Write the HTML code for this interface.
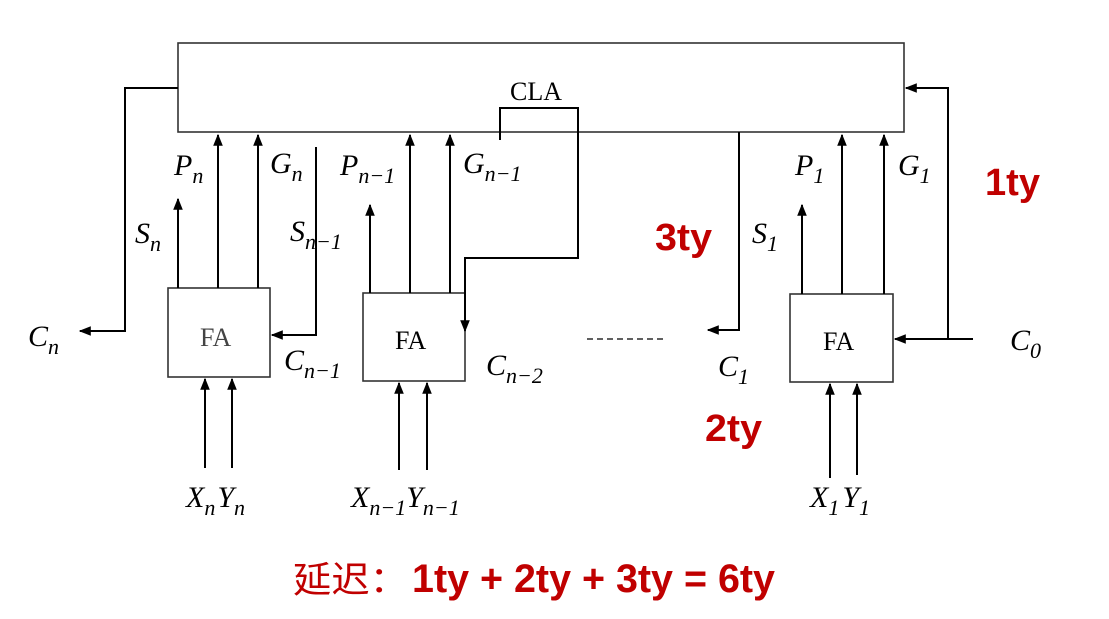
<!DOCTYPE html>
<html><head><meta charset="utf-8"><style>
html,body{margin:0;padding:0;background:#fff;}
svg{display:block;}
.m{font-family:"Liberation Serif",serif;font-style:italic;font-size:30px;fill:#000;}
.s{font-size:22px;font-style:italic;}
.fa{font-family:"Liberation Serif",serif;font-size:26px;fill:#000;}
.r{font-family:"Liberation Sans","Noto Sans CJK SC",sans-serif;font-weight:bold;fill:#c00000;font-size:38px;}
</style></head><body>
<svg width="1109" height="619" viewBox="0 0 1109 619" xmlns="http://www.w3.org/2000/svg">
<defs><marker id="b" viewBox="0 0 10 10" refX="9" refY="5" markerWidth="12" markerHeight="12" orient="auto" markerUnits="userSpaceOnUse"><path d="M0,1L10,5L0,9z" fill="#000"/></marker></defs>
<g fill="none" stroke="#333" stroke-width="1.6">
<rect x="178" y="43" width="726" height="89"/>
<rect x="168" y="288" width="102" height="89"/>
<rect x="363" y="293" width="102" height="88"/>
<rect x="790" y="294" width="103" height="88"/>
</g>
<g fill="none" stroke="#000" stroke-width="2" marker-end="url(#b)">
<path d="M178,88H125V331H80"/>
<path d="M178,288V199"/>
<path d="M218,288V135"/>
<path d="M258,288V135"/>
<path d="M316,147V335H272"/>
<path d="M370,293V205"/>
<path d="M410,293V135"/>
<path d="M450,293V135"/>
<path d="M500,140V108H578V258H465V331"/>
<path d="M739,132V330H708"/>
<path d="M802,294V205"/>
<path d="M842,294V135"/>
<path d="M884,294V135"/>
<path d="M973,339H895"/>
<path d="M948,339V88H906"/>
<path d="M205,468V379"/>
<path d="M232,468V379"/>
<path d="M399,470V383"/>
<path d="M427,470V383"/>
<path d="M830,478V384"/>
<path d="M857,475V384"/>
</g>
<path d="M587,339H664" stroke="#000" stroke-width="1.2" stroke-dasharray="6,4"/>
<text x="510" y="100" class="fa">CLA</text>
<text x="200" y="346" class="fa" style="fill:#444">FA</text>
<text x="395" y="349" class="fa">FA</text>
<text x="823" y="350" class="fa">FA</text>
<g class="m">
<text x="28" y="346">C<tspan class="s" dy="8">n</tspan></text>
<text x="174" y="175">P<tspan class="s" dy="8">n</tspan></text>
<text x="270" y="173">G<tspan class="s" dy="8">n</tspan></text>
<text x="135" y="243">S<tspan class="s" dy="8">n</tspan></text>
<text x="290" y="241">S<tspan class="s" dy="8">n−1</tspan></text>
<text x="340" y="175">P<tspan class="s" dy="8">n−1</tspan></text>
<text x="463" y="173">G<tspan class="s" dy="8">n−1</tspan></text>
<text x="284" y="370">C<tspan class="s" dy="8">n−1</tspan></text>
<text x="486" y="375">C<tspan class="s" dy="8">n−2</tspan></text>
<text x="718" y="376">C<tspan class="s" dy="8">1</tspan></text>
<text x="752" y="243">S<tspan class="s" dy="8">1</tspan></text>
<text x="795" y="175">P<tspan class="s" dy="8">1</tspan></text>
<text x="898" y="175">G<tspan class="s" dy="8">1</tspan></text>
<text x="1010" y="350">C<tspan class="s" dy="8">0</tspan></text>
<text x="186" y="507">X<tspan class="s" dy="8">n</tspan><tspan dx="2" dy="-8">Y</tspan><tspan class="s" dy="8">n</tspan></text>
<text x="351" y="507">X<tspan class="s" dy="8">n−1</tspan><tspan dy="-8">Y</tspan><tspan class="s" dy="8">n−1</tspan></text>
<text x="810" y="507">X<tspan class="s" dy="8">1</tspan><tspan dx="3" dy="-8">Y</tspan><tspan class="s" dy="8">1</tspan></text>
</g>
<text x="985" y="195" class="r" textLength="55" lengthAdjust="spacingAndGlyphs">1ty</text>
<text x="655" y="250" class="r" textLength="57" lengthAdjust="spacingAndGlyphs">3ty</text>
<text x="705" y="441" class="r" textLength="57" lengthAdjust="spacingAndGlyphs">2ty</text>
<text x="293" y="592" class="r" style="font-weight:normal;font-size:36px" textLength="115" lengthAdjust="spacingAndGlyphs">延迟：</text>
<text x="412" y="592" class="r" style="font-size:40px" textLength="363" lengthAdjust="spacingAndGlyphs">1ty + 2ty + 3ty = 6ty</text>
</svg>
</body></html>
